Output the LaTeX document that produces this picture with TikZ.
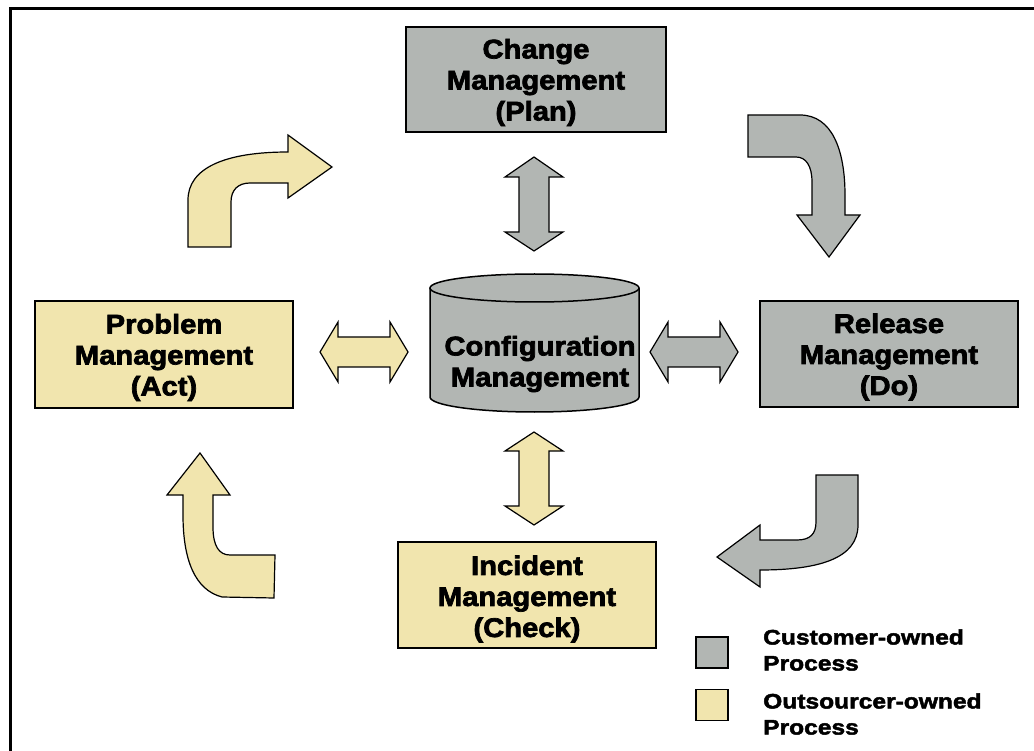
\documentclass[tikz,border=0pt]{standalone}
\usepackage{fontspec}
\setmainfont{Liberation Sans}[FakeStretch=1.08, BoldFeatures={FakeBold=2.6}]
\newfontfamily\keyfont{Liberation Sans Bold}[FakeStretch=1.17, FakeBold=2.2]
\definecolor{custgray}{HTML}{B2B6B3}
\definecolor{outyellow}{HTML}{F1E5AE}
\begin{document}
\begin{tikzpicture}[x=1pt,y=-1pt,
  proc/.style={draw=black, line width=1.5pt, minimum width=258pt, minimum height=106pt, inner sep=0pt},
  cust/.style={proc, fill=custgray},
  outs/.style={proc, fill=outyellow},
  proctext/.style={align=center, inner sep=0pt, font=\fontsize{27}{31}\selectfont\bfseries},
  blockarrow/.style={draw=black, line width=1.2pt, line join=miter},
  keybox/.style={draw=black, line width=1.5pt, minimum width=32pt, minimum height=31pt, inner sep=0pt},
  keytext/.style={anchor=west, align=left, inner sep=0pt, font=\fontsize{21}{26}\selectfont\keyfont}
]
\useasboundingbox (0,0) rectangle (1034,751);
\clip (0,0) rectangle (1034,751);

% outer frame
\draw[line width=3pt] (10.5,8.5) rectangle (1050,770);

% process boxes
\node[cust] (change)   at (536,79.5) [minimum width=260pt, minimum height=105pt] {};
\node[cust] (release)  at (889,354) {};
\node[outs] (problem)  at (164,354.5) [minimum height=107pt] {};
\node[outs] (incident) at (527,595) {};
\node[proctext] (changetext)   at ([yshift=-3pt]change.center)   {Change\\Management\\(Plan)};
\node[proctext] (releasetext)  at ([yshift=-3pt]release.center)  {Release\\Management\\(Do)};
\node[proctext] (problemtext)  at ([yshift=-3pt]problem.center)  {Problem\\Management\\(Act)};
\node[proctext] (incidenttext) at ([yshift=-4pt]incident.center) {Incident\\Management\\(Check)};

% configuration database cylinder
\fill[custgray] (430,288) rectangle (639,397);
\filldraw[fill=custgray, draw=black, line width=1.5pt]
  (430,288) -- (430,397)
  .. controls (430,405.3) and (476.8,412) .. (534.5,412)
  .. controls (592.2,412) and (639,405.3) .. (639,397)
  -- (639,288);
\filldraw[fill=custgray, draw=black, line width=1.5pt] (534.5,288) ellipse [x radius=104.5, y radius=14];
\node[proctext] (config) at (540,364) {Configuration\\Management};

% double block arrows
\filldraw[blockarrow, fill=custgray]
  (534,157) -- (563,177) -- (549,177) -- (549,232) -- (563,232) -- (534,251)
  -- (505,232) -- (519,232) -- (519,177) -- (505,177) -- cycle;
\filldraw[blockarrow, fill=outyellow]
  (534,432) -- (563,451) -- (549,451) -- (549,506) -- (563,506) -- (534,525)
  -- (505,506) -- (519,506) -- (519,451) -- (505,451) -- cycle;
\filldraw[blockarrow, fill=outyellow]
  (320,352) -- (338,322) -- (338,337) -- (390,337) -- (390,322) -- (408,352)
  -- (390,382) -- (390,367) -- (338,367) -- (338,382) -- cycle;
\filldraw[blockarrow, fill=custgray]
  (650,352) -- (668,322) -- (668,337) -- (720,337) -- (720,322) -- (738,352)
  -- (720,382) -- (720,367) -- (668,367) -- (668,382) -- cycle;

% bent cycle arrows
\filldraw[blockarrow, fill=outyellow]
  (188,247) -- (188,200) .. controls (188,168) and (225,152) .. (288,152)
  -- (288,135) -- (332,167) -- (288,198) -- (288,183) -- (250,183)
  .. controls (238,183) and (231,190) .. (231,202) -- (231,247) -- cycle;
\filldraw[blockarrow, fill=custgray]
  (748,115) -- (800,115) .. controls (832,115) and (845,150) .. (845,195)
  -- (845,215) -- (860,215) -- (829,257) -- (797,215) -- (812,215) -- (812,182)
  .. controls (812,166) and (806,157) .. (796,157) -- (748,157) -- cycle;
\filldraw[blockarrow, fill=custgray]
  (816,475) -- (858,475) -- (858,525) .. controls (858,558) and (820,570) .. (760,570)
  -- (760,587) -- (717,557) -- (760,525) -- (760,540) -- (797,540)
  .. controls (810,540) and (816,534) .. (816,522) -- cycle;
\filldraw[blockarrow, fill=outyellow]
  (200,453) -- (230,495) -- (213,495) -- (213,527)
  .. controls (213,546) and (219,555) .. (230,555) -- (275,555) -- (274,598) -- (222,597)
  .. controls (195,590) and (183,560) .. (183,515) -- (183,495) -- (167,495) -- cycle;

% key
\node[keybox, fill=custgray]  (keycust) at (712,652.5) {};
\node[keybox, fill=outyellow] (keyouts) at (712,705) {};
\node[keytext] (keycusttext) at (763,650) {Customer-owned\\Process};
\node[keytext] (keyoutstext) at (763,714) {Outsourcer-owned\\Process};
\end{tikzpicture}
\end{document}
